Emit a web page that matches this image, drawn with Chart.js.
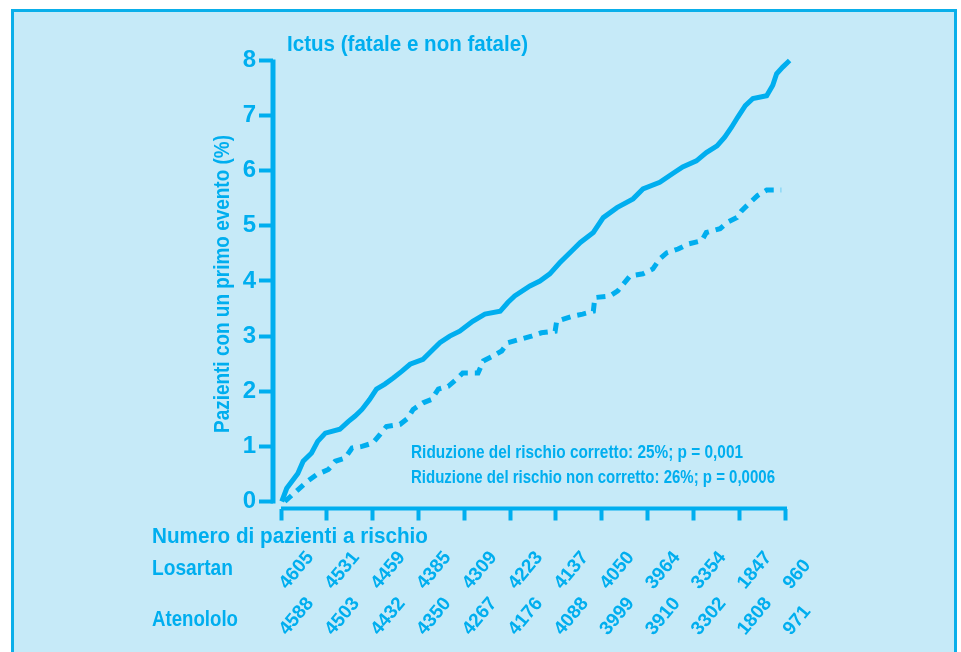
<!DOCTYPE html>
<html lang="it">
<head>
<meta charset="utf-8">
<title>Ictus (fatale e non fatale)</title>
<script src="https://cdn.jsdelivr.net/npm/chart.js@4.4.1/dist/chart.umd.min.js"></script>
<style>
  html, body { margin: 0; padding: 0; background: #ffffff; }
  #wrap { position: relative; width: 961px; height: 652px; overflow: hidden; }
  #frame {
    position: absolute; left: 11px; top: 9px; width: 940px; height: 700px;
    border: 3px solid #0AAFEA; background: #C6EAF8;
  }
  #chart { position: absolute; left: 0; top: 0; }
</style>
</head>
<body>
<div id="wrap">
  <div id="frame"></div>
  <canvas id="chart" width="961" height="652"></canvas>
</div>
<script>
// Kaplan-Meier style cumulative incidence of stroke (months, % of patients)
const atenololoMonths = [0.1, 0.75, 2.2, 2.9, 4.0, 4.8, 5.8, 7.7, 8.8, 9.7, 10.6, 11.6, 12.5, 13.6, 14.7, 15.8,
  16.9, 18.6, 19.7, 20.8, 22.1, 23.4, 25.1, 26.7, 28.7, 29.7, 30.6, 32.6, 33.9, 35.2, 36.5, 38.1, 39.2, 40.9,
  42.2, 44.0, 46.1, 47.4, 49.6, 51.3, 52.6, 54.4, 55.7, 57.1, 58.1, 59.0, 59.8, 60.8, 61.8, 63.6, 64.4, 64.9,
  65.7, 66.6];
const atenololoPct = [0, 0.24, 0.51, 0.73, 0.88, 1.09, 1.24, 1.31, 1.45, 1.55, 1.67, 1.85, 2.04, 2.13, 2.24, 2.36,
  2.49, 2.58, 2.73, 2.88, 3.0, 3.09, 3.27, 3.40, 3.45, 3.61, 3.73, 3.91, 4.0, 4.13, 4.33, 4.55, 4.70, 4.88,
  5.15, 5.33, 5.49, 5.67, 5.79, 5.95, 6.07, 6.18, 6.33, 6.45, 6.61, 6.79, 6.97, 7.18, 7.31, 7.36, 7.55, 7.76,
  7.88, 8.0];

const losartanMonths = [0.5, 3.4, 4.7, 6.2, 7.1, 8.4, 9.3, 10.6, 12.0, 13.0, 13.8, 15.6, 16.6, 17.3, 18.6, 19.7,
  20.6, 21.9, 23.0, 23.8, 25.8, 26.5, 27.8, 28.9, 29.7, 31.5, 32.8, 34.1, 35.9, 36.1, 38.1, 39.5, 40.9, 41.1,
  43.1, 44.1, 45.7, 47.4, 48.7, 49.6, 50.5, 52.0, 53.3, 55.1, 55.7, 57.5, 58.4, 59.7, 60.3, 61.4, 62.4, 63.6,
  65.5];
const losartanPct = [0, 0.36, 0.49, 0.58, 0.73, 0.79, 0.97, 1.0, 1.06, 1.22, 1.36, 1.40, 1.51, 1.67, 1.79, 1.85,
  2.04, 2.09, 2.22, 2.33, 2.33, 2.55, 2.64, 2.73, 2.88, 2.95, 3.0, 3.06, 3.09, 3.27, 3.36, 3.40, 3.45, 3.70,
  3.73, 3.82, 4.09, 4.13, 4.22, 4.40, 4.51, 4.58, 4.67, 4.73, 4.88, 4.95, 5.06, 5.15, 5.27, 5.42, 5.55, 5.65,
  5.65];

// Axis ticks
const monthTicks = [0, 6, 12, 18, 24, 30, 36, 42, 48, 54, 60, 66];
const pctTicks = [0, 1, 2, 3, 4, 5, 6, 7, 8];

// Patients at risk at each month tick
const atRiskLosartan = ["4605", "4531", "4459", "4385", "4309", "4223", "4137", "4050", "3964", "3354", "1847", "960"];
const atRiskAtenololo = ["4588", "4503", "4432", "4350", "4267", "4176", "4088", "3999", "3910", "3302", "1808", "971"];

// Texts
const chartTitle = "Ictus (fatale e non fatale)";
const yTitle = "Pazienti con un primo evento (%)";
const noteLines = [
  "Riduzione del rischio corretto: 25%; p = 0,001",
  "Riduzione del rischio non corretto: 26%; p = 0,0006"
];
const atRiskTitle = "Numero di pazienti a rischio";
const groupNames = ["Losartan", "Atenololo"];

const BLUE = "#00AEEF";
const FONT = "'Liberation Sans', Arial, sans-serif";

const toPoints = (xs, ys) => xs.map((x, i) => ({ x: x, y: ys[i] }));

// Draws the axis lines, annotations and the at-risk table using the chart scales
const decorations = {
  id: "decorations",
  afterDraw(chart) {
    const ctx = chart.ctx;
    const xs = chart.scales.x;
    const ys = chart.scales.y;
    const area = chart.chartArea;
    ctx.save();
    ctx.fillStyle = BLUE;
    ctx.strokeStyle = BLUE;

    // y axis line
    ctx.lineWidth = 5;
    ctx.beginPath();
    ctx.moveTo(area.left - 2.5 + 2.5, ys.getPixelForValue(0) + 2);
    ctx.lineTo(area.left - 2.5 + 2.5, ys.getPixelForValue(8) - 1);
    ctx.stroke();

    // x axis line
    ctx.lineWidth = 4;
    ctx.beginPath();
    ctx.moveTo(xs.getPixelForValue(0), area.bottom);
    ctx.lineTo(xs.getPixelForValue(66) + 2, area.bottom);
    ctx.stroke();

    const text = (str, x, y, size, maxW, align) => {
      ctx.font = "bold " + size + "px " + FONT;
      ctx.textAlign = align || "left";
      ctx.textBaseline = "alphabetic";
      ctx.fillText(str, x, y, maxW);
    };

    // title
    text(chartTitle, 287, 51, 22, 241);

    // y axis title
    ctx.save();
    ctx.translate(229, 433);
    ctx.rotate(-Math.PI / 2);
    text(yTitle, 0, 0, 22, 298);
    ctx.restore();

    // statistics note
    text(noteLines[0], 411, 458, 19, 332);
    text(noteLines[1], 411, 483, 19, 364);

    // at-risk table
    text(atRiskTitle, 152, 543, 22, 276);
    text(groupNames[0], 152, 575, 22, 81);
    text(groupNames[1], 152, 626, 22, 86);

    const rows = [[atRiskLosartan, 590], [atRiskAtenololo, 636]];
    rows.forEach(([vals, base]) => {
      monthTicks.forEach((m, i) => {
        ctx.save();
        ctx.translate(xs.getPixelForValue(m) + 6, base);
        ctx.rotate(-50 * Math.PI / 180);
        text(vals[i], 0, 0, 19, 44);
        ctx.restore();
      });
    });
    ctx.restore();
  }
};

new Chart(document.getElementById("chart"), {
  type: "line",
  data: {
    datasets: [
      {
        label: "Atenololo",
        data: toPoints(atenololoMonths, atenololoPct),
        borderColor: BLUE,
        borderWidth: 5,
        pointRadius: 0,
        tension: 0,
        clip: false
      },
      {
        label: "Losartan",
        data: toPoints(losartanMonths, losartanPct),
        borderColor: BLUE,
        borderWidth: 5,
        borderDash: [9, 7],
        borderCapStyle: "butt",
        pointRadius: 0,
        tension: 0,
        clip: false
      }
    ]
  },
  options: {
    responsive: false,
    animation: false,
    events: [],
    layout: { padding: { left: 213, right: 176, top: 60.5, bottom: 123.5 } },
    plugins: { legend: { display: false }, tooltip: { enabled: false }, title: { display: false } },
    scales: {
      x: {
        type: "linear",
        min: -1.05,
        max: 66,
        afterBuildTicks: (s) => { s.ticks = monthTicks.map(v => ({ value: v })); },
        afterFit: (s) => { s.height = 20; },
        border: { display: false },
        grid: { drawOnChartArea: false, drawTicks: true, tickLength: 12, tickWidth: 4, tickColor: BLUE },
        ticks: { display: false }
      },
      y: {
        type: "linear",
        min: -0.127,
        max: 8,
        afterBuildTicks: (s) => { s.ticks = pctTicks.map(v => ({ value: v })); },
        afterFit: (s) => { s.width = 60; },
        border: { display: false },
        grid: { drawOnChartArea: false, drawTicks: true, tickLength: 14, tickWidth: 4, tickColor: BLUE },
        ticks: { color: BLUE, padding: 3, font: { family: FONT, size: 24, weight: "bold" } }
      }
    }
  },
  plugins: [decorations]
});
</script>
</body>
</html>
